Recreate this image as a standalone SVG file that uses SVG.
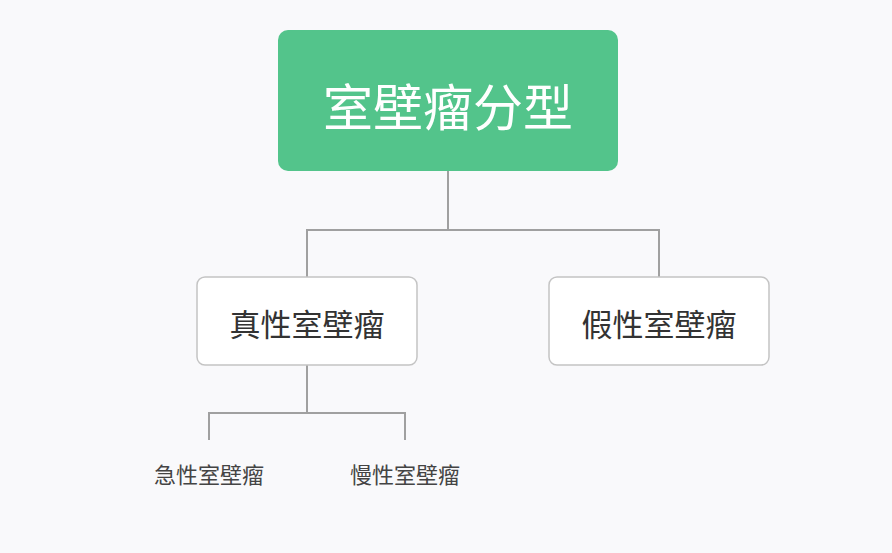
<svg xmlns="http://www.w3.org/2000/svg" width="892" height="553" viewBox="0 0 892 553">
<style>
text{font-family:"Noto Sans CJK SC","Noto Sans",sans-serif;text-anchor:middle;dominant-baseline:central}
.c{fill:none;stroke:#a0a0a0;stroke-width:2}
.b{fill:#fff;stroke:#c4c4c4;stroke-width:1.5}
.t{font-size:31px;fill:#333}
.l{font-size:22px;fill:#444}
</style>
<rect width="892" height="553" fill="#f9f9fb"/>
<g id="connectors">
<path class="c" d="M448 171V230M307 277V230H659V277"/>
<path class="c" d="M307 365V413M209 440V413H405V440"/>
</g>
<g id="root"><rect x="278" y="30" width="340" height="141" rx="10" fill="#53c48b"/><text x="448" y="104" font-size="50" fill="#fff">室壁瘤分型</text></g>
<g id="true"><rect class="b" x="197" y="277" width="220" height="88" rx="8"/><text class="t" x="307" y="322">真性室壁瘤</text></g>
<g id="false"><rect class="b" x="549" y="277" width="220" height="88" rx="8"/><text class="t" x="659" y="322">假性室壁瘤</text></g>
<g id="acute"><text class="l" x="209" y="473">急性室壁瘤</text></g>
<g id="chronic"><text class="l" x="405" y="473">慢性室壁瘤</text></g>
</svg>
